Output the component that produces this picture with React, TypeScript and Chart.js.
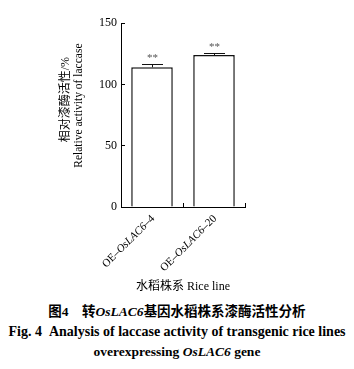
import React, { useEffect, useRef } from "react";
import { Chart, registerables } from "chart.js";
Chart.register(...registerables);

const categories = ["OE–OsLAC6–4", "OE–OsLAC6–20"];
const labelPrefix = ["OE–", "OE–"];
const labelGene = ["OsLAC6", "OsLAC6"];
const labelSuffix = ["–4", "–20"];
const values = [114, 124];
const errors = [3, 2];
const significance = ["**", "**"];
const yMin = 0;
const yMax = 150;
const yStep = 50;
const yTitleZh = "相对漆酶活性/%";
const yTitleEn = "Relative activity of laccase";
const xTitle = "水稻株系 Rice line";

const FAMILY = "'Liberation Serif', 'Noto Sans CJK SC', serif";

const overlay = {
  id: "overlay",
  afterDatasetsDraw(chart: any) {
    const ctx = chart.ctx;
    const meta = chart.getDatasetMeta(0);
    const y = chart.scales.y;
    ctx.save();
    meta.data.forEach((bar: any, i: number) => {
      const x = Math.round(bar.x) + 0.5;
      const top = y.getPixelForValue(values[i]);
      const cap = Math.round(y.getPixelForValue(values[i] + errors[i])) + 0.5;
      ctx.strokeStyle = "#111";
      ctx.lineWidth = 1;
      ctx.beginPath();
      ctx.moveTo(x, top);
      ctx.lineTo(x, cap);
      ctx.moveTo(x - 10.5, cap);
      ctx.lineTo(x + 10.5, cap);
      ctx.stroke();
      ctx.fillStyle = "#555";
      ctx.font = "11px " + FAMILY;
      ctx.textAlign = "center";
      ctx.textBaseline = "alphabetic";
      ctx.fillText(significance[i], x, cap - 4);
    });
    ctx.restore();
  },
  afterDraw(chart: any) {
    const ctx = chart.ctx;
    const xs = chart.scales.x;
    const area = chart.chartArea;
    ctx.save();
    ctx.fillStyle = "#000";
    ctx.textBaseline = "middle";
    ctx.textAlign = "left";
    const normal = "11px " + FAMILY;
    const italic = "italic 11px " + FAMILY;
    categories.forEach((_, i) => {
      const cx = xs.getPixelForValue(i) + 1;
      const cy = area.bottom + 10;
      const parts = [
        [labelPrefix[i], normal],
        [labelGene[i], italic],
        [labelSuffix[i], normal],
      ];
      let total = 0;
      parts.forEach(([t, f]) => {
        ctx.font = f;
        total += ctx.measureText(t).width;
      });
      ctx.save();
      ctx.translate(cx, cy);
      ctx.rotate(-Math.PI / 4);
      let pos = -total;
      parts.forEach(([t, f]) => {
        ctx.font = f;
        ctx.fillText(t, pos, 0);
        pos += ctx.measureText(t).width;
      });
      ctx.restore();
    });
    // y-axis title, two lines
    const midY = (area.top + area.bottom) / 2;
    ctx.textAlign = "center";
    ctx.save();
    ctx.translate(58, midY - 15.5);
    ctx.rotate(-Math.PI / 2);
    ctx.font = "12px " + FAMILY;
    ctx.fillText(yTitleZh, 0, 0);
    ctx.restore();
    ctx.save();
    ctx.translate(71, midY - 9.5);
    ctx.rotate(-Math.PI / 2);
    ctx.font = "11.5px " + FAMILY;
    ctx.fillText(yTitleEn, 0, 0);
    ctx.restore();
    ctx.restore();
  },
};

function ChartBox() {
  const ref = useRef<HTMLCanvasElement | null>(null);
  useEffect(() => {
    if (!ref.current) return;
    Chart.defaults.font.family = FAMILY;
    Chart.defaults.color = "#000";
    const chart = new Chart(ref.current, {
      type: "bar",
      data: {
        labels: categories,
        datasets: [
          {
            data: values,
            backgroundColor: "#fff",
            borderColor: "#111",
            borderWidth: 1.5,
            barPercentage: 0.67,
            categoryPercentage: 1,
          },
        ],
      },
      options: {
        responsive: false,
        animation: false,
        events: [],
        layout: { padding: { left: 0, right: 101, top: 13, bottom: 0 } },
        plugins: {
          legend: { display: false },
          tooltip: { enabled: false },
        },
        scales: {
          x: {
            afterFit: (s: any) => {
              s.height = 91;
            },
            border: { display: true, color: "#000", width: 1 },
            grid: {
              display: true,
              drawOnChartArea: false,
              drawTicks: true,
              tickLength: -4,
              color: "#000",
              offset: true,
            },
            ticks: { display: false },
            title: {
              display: true,
              text: xTitle,
              font: { size: 12, family: FAMILY },
              color: "#000",
              padding: { top: 0, bottom: 4 },
            },
          },
          y: {
            min: yMin,
            max: yMax,
            afterFit: (s: any) => {
              s.width = 113;
            },
            border: { display: true, color: "#000", width: 1 },
            grid: {
              display: true,
              drawOnChartArea: false,
              drawTicks: true,
              tickLength: -4,
              color: "#000",
            },
            ticks: {
              stepSize: yStep,
              padding: 8,
              color: "#000",
              font: { size: 12, family: FAMILY },
            },
          },
        },
      },
      plugins: [overlay],
    });
    return () => chart.destroy();
  }, []);
  return <canvas ref={ref} width={338} height={290} style={{ display: "block" }} />;
}

export default function App() {
  const cap: React.CSSProperties = {
    fontFamily: FAMILY,
    fontWeight: "bold",
    fontSize: 13.5,
    lineHeight: "20px",
    textAlign: "center",
    whiteSpace: "nowrap",
    color: "#000",
  };
  return (
    <div style={{ width: 338 }}>
      <ChartBox />
      <div style={{ ...cap, marginTop: 4 }}>
        <div>
          图4{"\u3000"}转<i>OsLAC6</i>基因水稻株系漆酶活性分析
        </div>
        <div style={{ fontSize: 14 }}>
          Fig. 4{"\u2002"}Analysis of laccase activity of transgenic rice lines
        </div>
        <div>
          overexpressing <i>OsLAC6</i> gene
        </div>
      </div>
    </div>
  );
}
